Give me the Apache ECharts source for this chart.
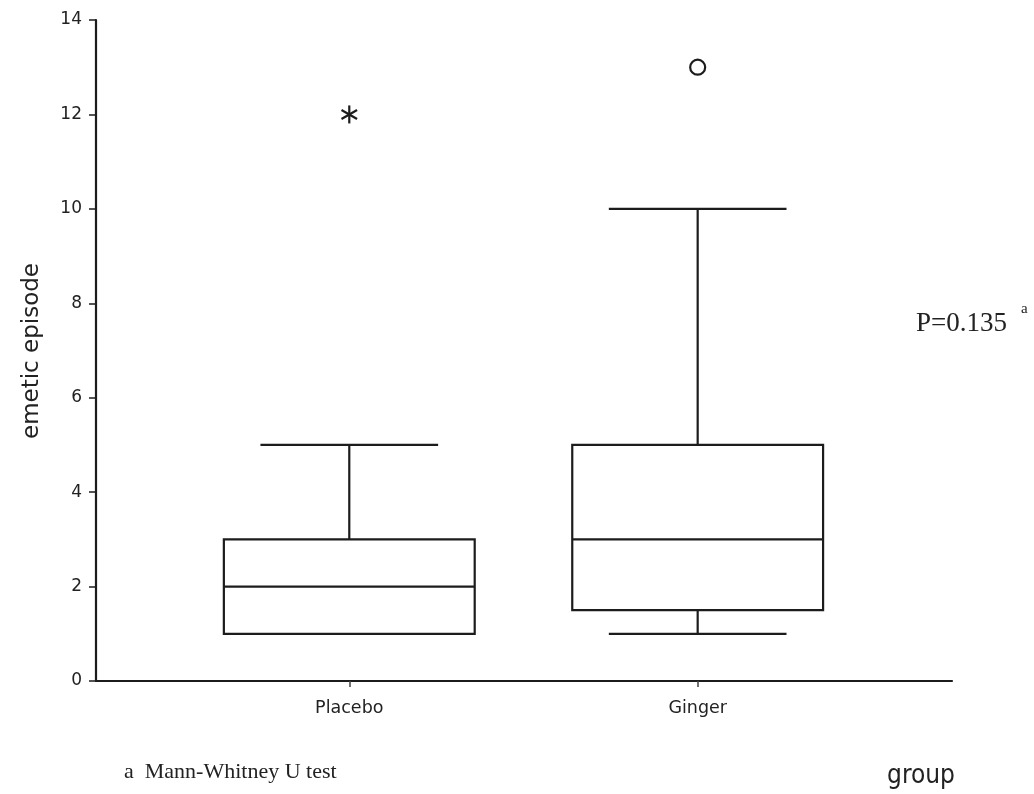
<!DOCTYPE html>
<html>
<head>
<meta charset="utf-8">
<script src="https://cdn.jsdelivr.net/npm/echarts@6/dist/echarts.min.js"></script>
<style>
  html, body { margin: 0; padding: 0; background: #ffffff; }
  #chart { width: 1034px; height: 794px; }
</style>
</head>
<body>
<div id="chart"></div>
<script>
// ---- data ----
const groups = ['Placebo', 'Ginger'];
const whiskerLow = [1, 1];
const q1 = [1, 1.5];
const median = [2, 3];
const q3 = [3, 5];
const whiskerHigh = [5, 10];
const extremeOutliers = [[1, 12]];   // [group position, value]  drawn as *
const outliers = [[2, 13]];          // [group position, value]  drawn as o
const groupPositions = [1, 2];
const yMin = 0, yMax = 14, yStep = 2;
const yAxisTitle = 'emetic episode';
const xAxisTitle = 'group';
const pValueText = 'P=0.135';
const footnoteText = 'a  Mann-Whitney U test';

// ---- styling constants ----
const INK = '#1c1c1c';
const BOX_W = 0.72;   // in x-axis units
const CAP_W = 0.51;

const boxData = groups.map((g, i) => [groupPositions[i], whiskerLow[i], q1[i], median[i], q3[i], whiskerHigh[i]]);

function renderBox(params, api) {
  const x = api.value(0);
  const pLow = api.coord([x, api.value(1)]);
  const pQ1 = api.coord([x, api.value(2)]);
  const pMed = api.coord([x, api.value(3)]);
  const pQ3 = api.coord([x, api.value(4)]);
  const pHigh = api.coord([x, api.value(5)]);
  const cx = pMed[0];
  const bh = api.size([BOX_W, 0])[0] / 2;
  const ch = api.size([CAP_W, 0])[0] / 2;
  const ls = { stroke: INK, lineWidth: 2.2, fill: null };
  const children = [];
  children.push({ type: 'line', shape: { x1: cx, y1: pQ3[1], x2: cx, y2: pHigh[1] }, style: ls });
  children.push({ type: 'line', shape: { x1: cx - ch, y1: pHigh[1], x2: cx + ch, y2: pHigh[1] }, style: ls });
  if (api.value(1) < api.value(2)) {
    children.push({ type: 'line', shape: { x1: cx, y1: pQ1[1], x2: cx, y2: pLow[1] }, style: ls });
    children.push({ type: 'line', shape: { x1: cx - ch, y1: pLow[1], x2: cx + ch, y2: pLow[1] }, style: ls });
  }
  children.push({ type: 'rect', shape: { x: cx - bh, y: pQ3[1], width: 2 * bh, height: pQ1[1] - pQ3[1] },
                  style: { stroke: INK, lineWidth: 2.2, fill: '#ffffff' } });
  children.push({ type: 'line', shape: { x1: cx - bh, y1: pMed[1], x2: cx + bh, y2: pMed[1] }, style: ls });
  return { type: 'group', children: children };
}

function renderStar(params, api) {
  const p = api.coord([api.value(0), api.value(1)]);
  const r = 9;
  const ls = { stroke: INK, lineWidth: 2.2, fill: null };
  const children = [];
  [90, 30, 150].forEach(function (deg) {
    const a = deg * Math.PI / 180;
    const dx = Math.cos(a) * r, dy = Math.sin(a) * r;
    children.push({ type: 'line', shape: { x1: p[0] - dx, y1: p[1] - dy, x2: p[0] + dx, y2: p[1] + dy }, style: ls });
  });
  return { type: 'group', children: children };
}

function renderCircle(params, api) {
  const p = api.coord([api.value(0), api.value(1)]);
  return { type: 'circle', shape: { cx: p[0], cy: p[1], r: 7.5 }, style: { stroke: INK, lineWidth: 2.2, fill: null } };
}

const chart = echarts.init(document.getElementById('chart'), null, { renderer: 'canvas' });
chart.setOption({
  animation: false,
  backgroundColor: '#ffffff',
  grid: { left: 96, right: 82, top: 20, bottom: 113, containLabel: false },
  xAxis: {
    type: 'value',
    min: 0.273,
    max: 2.73,
    axisLine: { show: true, onZero: false, lineStyle: { color: INK, width: 2.2 } },
    axisTick: { show: true, length: 6, customValues: groupPositions, lineStyle: { color: '#444', width: 1.5 } },
    splitLine: { show: false },
    axisLabel: {
      customValues: groupPositions,
      formatter: function (v) { const i = groupPositions.indexOf(v); return i >= 0 ? groups[i] : ''; },
      margin: 18,
      color: '#222',
      fontFamily: 'DejaVu Sans',
      fontSize: 17.5
    }
  },
  yAxis: {
    type: 'value',
    min: yMin,
    max: yMax,
    interval: yStep,
    axisLine: { show: true, lineStyle: { color: INK, width: 2.2 } },
    axisTick: { show: true, length: 7, lineStyle: { color: INK, width: 1.5 } },
    splitLine: { show: false },
    axisLabel: { margin: 14, color: '#222', fontFamily: 'DejaVu Sans', fontSize: 17 }
  },
  graphic: [
    { type: 'text', x: 32, y: 351, rotation: Math.PI / 2,
      style: { text: yAxisTitle, font: '23px "DejaVu Sans", sans-serif', fill: '#222', textAlign: 'center', textVerticalAlign: 'middle' } },
    { type: 'text', x: 921, y: 776,
      style: { text: xAxisTitle, font: '26px "DejaVu Sans Condensed", "Liberation Sans Narrow", sans-serif', fill: '#222', textAlign: 'center', textVerticalAlign: 'middle' } },
    { type: 'text', x: 124, y: 772,
      style: { text: footnoteText, font: '22px "Liberation Serif", serif', fill: '#222', textAlign: 'left', textVerticalAlign: 'middle' } },
    { type: 'text', x: 916, y: 324,
      style: { text: pValueText, font: '27px "Liberation Serif", serif', fill: '#222', textAlign: 'left', textVerticalAlign: 'middle' } },
    { type: 'text', x: 1021, y: 309,
      style: { text: 'a', font: '15px "Liberation Serif", serif', fill: '#222', textAlign: 'left', textVerticalAlign: 'middle' } }
  ],
  series: [
    { type: 'custom', name: 'box', renderItem: renderBox, data: boxData, encode: { x: 0, y: [1, 2, 3, 4, 5] }, clip: false, z: 3 },
    { type: 'custom', name: 'extreme', renderItem: renderStar, data: extremeOutliers, encode: { x: 0, y: 1 }, clip: false, z: 4 },
    { type: 'custom', name: 'outlier', renderItem: renderCircle, data: outliers, encode: { x: 0, y: 1 }, clip: false, z: 4 }
  ]
});
</script>
</body>
</html>
